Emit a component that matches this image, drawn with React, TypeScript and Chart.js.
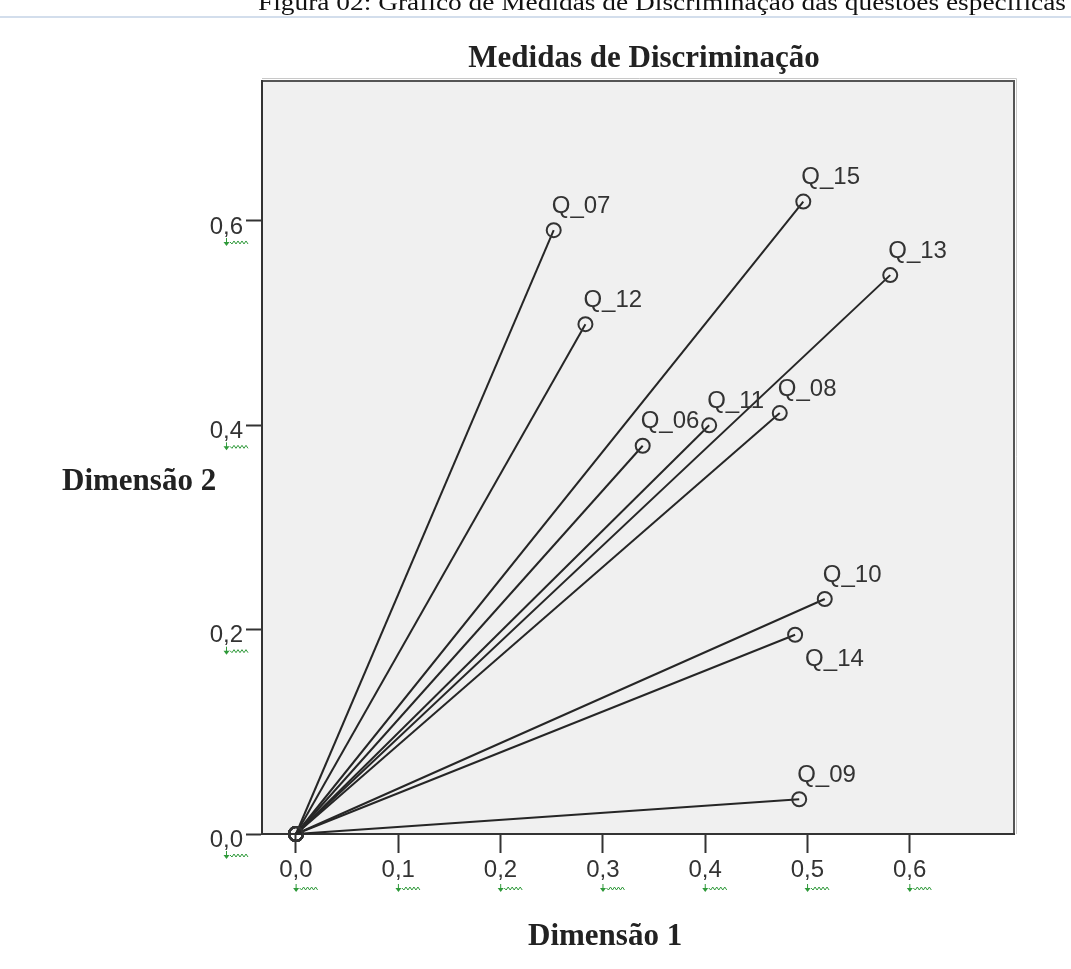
import React, { useEffect, useRef } from "react";
import { Chart, registerables } from "chart.js";

Chart.register(...registerables);

const questions = ["Q_06", "Q_07", "Q_08", "Q_09", "Q_10", "Q_11", "Q_12", "Q_13", "Q_14", "Q_15"];
const dimension1 = [0.339, 0.252, 0.473, 0.492, 0.517, 0.404, 0.283, 0.581, 0.488, 0.496];
const dimension2 = [0.380, 0.591, 0.412, 0.034, 0.230, 0.400, 0.499, 0.547, 0.195, 0.619];
const labelSide = ["above", "above", "above", "above", "above", "above", "above", "above", "below", "above"];
const xTickValues = [0, 0.1, 0.2, 0.3, 0.4, 0.5, 0.6];
const yTickValues = [0, 0.2, 0.4, 0.6];
const chartTitle = "Medidas de Discriminação";
const xAxisTitle = "Dimensão 1";
const yAxisTitle = "Dimensão 2";
const caption = "Figura 02: Gráfico de Medidas de Discriminação das questões específicas";

const fmt = (v: number) => v.toFixed(1).replace(".", ",");
const TICK_FONT = "24px 'Liberation Sans', Arial, sans-serif";

function squiggle(ctx: CanvasRenderingContext2D, commaX: number, endX: number, y: number) {
  ctx.save();
  ctx.strokeStyle = "#2f9a3a";
  ctx.fillStyle = "#2f9a3a";
  ctx.lineWidth = 1;
  ctx.beginPath();
  ctx.moveTo(commaX + 0.5, y - 3);
  ctx.lineTo(commaX + 0.5, y + 4);
  ctx.stroke();
  ctx.beginPath();
  ctx.moveTo(commaX - 2.5, y + 1);
  ctx.lineTo(commaX + 3.5, y + 1);
  ctx.lineTo(commaX + 0.5, y + 5);
  ctx.closePath();
  ctx.fill();
  ctx.beginPath();
  let x = commaX + 4;
  let up = true;
  ctx.moveTo(x, y + 1);
  while (x < endX + 3) {
    x += 2;
    ctx.lineTo(x, up ? y + 3 : y);
    up = !up;
  }
  ctx.stroke();
  ctx.restore();
}

const decorPlugin = {
  id: "decor",
  beforeDraw(chart: any) {
    const { ctx, chartArea: a, width } = chart;
    ctx.save();
    ctx.fillStyle = "#ffffff";
    ctx.fillRect(0, 0, chart.width, chart.height);
    ctx.fillStyle = "#111";
    ctx.font = "24px 'Liberation Serif', serif";
    ctx.textBaseline = "alphabetic";
    ctx.textAlign = "left";
    const cw = ctx.measureText(caption).width;
    ctx.save();
    ctx.translate(258, 10);
    ctx.scale(808 / cw, 1);
    ctx.fillText(caption, 0, 0);
    ctx.restore();
    ctx.fillStyle = "#d3deec";
    ctx.fillRect(0, 16, width, 2);
    ctx.fillStyle = "#f0f0f0";
    ctx.fillRect(a.left, a.top, a.right - a.left, a.bottom - a.top);
    ctx.strokeStyle = "#c8c8c8";
    ctx.lineWidth = 1;
    ctx.beginPath();
    ctx.moveTo(a.left, a.top - 2.5);
    ctx.lineTo(a.right + 2.5, a.top - 2.5);
    ctx.lineTo(a.right + 2.5, a.bottom);
    ctx.stroke();
    ctx.strokeStyle = "#555";
    ctx.lineWidth = 2;
    ctx.beginPath();
    ctx.moveTo(a.left, a.top);
    ctx.lineTo(a.right, a.top);
    ctx.lineTo(a.right, a.bottom);
    ctx.stroke();
    ctx.restore();
  },
  afterDraw(chart: any) {
    const { ctx } = chart;
    ctx.save();
    ctx.fillStyle = "#222";
    ctx.textBaseline = "alphabetic";
    ctx.font = "bold 31px 'Liberation Serif', serif";
    ctx.textAlign = "center";
    ctx.fillText(chartTitle, 644, 67);
    ctx.textAlign = "left";
    ctx.fillText(xAxisTitle, 528, 945);
    ctx.fillText(yAxisTitle, 62, 490);
    ctx.font = "24px 'Liberation Sans', Arial, sans-serif";
    ctx.fillStyle = "#333";
    ctx.textBaseline = "middle";
    chart.data.datasets.forEach((ds: any, i: number) => {
      const meta = chart.getDatasetMeta(i);
      const p = meta.data[1];
      if (!p) return;
      if (labelSide[i] === "below") {
        ctx.fillText(questions[i], p.x + 10, p.y + 25);
      } else {
        ctx.fillText(questions[i], p.x - 2, p.y - 24);
      }
    });
    ctx.font = TICK_FONT;
    const xs = chart.scales.x;
    const ys = chart.scales.y;
    xTickValues.forEach((v) => {
      const t = fmt(v);
      const w = ctx.measureText(t).width;
      const w0 = ctx.measureText(t.slice(0, 1)).width;
      const cx = xs.getPixelForValue(v);
      const left = cx - w / 2;
      squiggle(ctx, left + w0 + 3, left + w, 887);
    });
    yTickValues.forEach((v) => {
      const t = fmt(v);
      const w = ctx.measureText(t).width;
      const w0 = ctx.measureText(t.slice(0, 1)).width;
      const py = ys.getPixelForValue(v);
      const right = chart.chartArea.left - 16 - 3;
      const left = right - w;
      squiggle(ctx, left + w0 + 3, right, py + 20);
    });
    ctx.restore();
  },
};

export default function App() {
  const ref = useRef<HTMLCanvasElement | null>(null);
  useEffect(() => {
    if (!ref.current) return;
    const datasets = questions.map((q, i) => ({
      label: q,
      data: [
        { x: 0, y: 0 },
        { x: dimension1[i], y: dimension2[i] },
      ],
      showLine: true,
      borderColor: "#262626",
      borderWidth: 2,
      pointRadius: 7,
      pointBorderWidth: 2,
      pointBorderColor: "#333",
      pointBackgroundColor: "rgba(0,0,0,0)",
      clip: false as any,
    }));
    const chart = new Chart(ref.current, {
      type: "scatter",
      data: { datasets },
      options: {
        animation: false,
        responsive: false,
        devicePixelRatio: 1,
        events: [],
        layout: { padding: { left: 0, top: 81, right: 57, bottom: 0 } },
        plugins: {
          legend: { display: false },
          tooltip: { enabled: false },
          title: { display: false },
        },
        scales: {
          x: {
            type: "linear",
            min: -0.0332,
            max: 0.702,
            afterFit: (s: any) => {
              s.height = 135;
            },
            afterBuildTicks: (s: any) => {
              s.ticks = xTickValues.map((v) => ({ value: v }));
            },
            ticks: {
              callback: (v: any) => fmt(Number(v)),
              color: "#333",
              font: { family: "'Liberation Sans', Arial, sans-serif", size: 24 },
              padding: 3,
              maxRotation: 0,
              autoSkip: false,
            },
            grid: {
              drawOnChartArea: false,
              drawTicks: true,
              tickLength: 19,
              tickWidth: 2,
              tickColor: "#333",
            },
            border: { display: true, color: "#333", width: 2 },
          },
          y: {
            type: "linear",
            min: 0,
            max: 0.737,
            afterFit: (s: any) => {
              s.width = 262;
            },
            afterBuildTicks: (s: any) => {
              s.ticks = yTickValues.map((v) => ({ value: v }));
            },
            ticks: {
              callback: (v: any) => fmt(Number(v)),
              color: "#333",
              font: { family: "'Liberation Sans', Arial, sans-serif", size: 24 },
              padding: 3,
              labelOffset: 6,
              autoSkip: false,
            },
            grid: {
              drawOnChartArea: false,
              drawTicks: true,
              tickLength: 16,
              tickWidth: 2,
              tickColor: "#333",
            },
            border: { display: true, color: "#333", width: 2 },
          },
        },
      },
      plugins: [decorPlugin],
    });
    return () => chart.destroy();
  }, []);
  return (
    <canvas
      ref={ref}
      width={1071}
      height={969}
      style={{ position: "absolute", left: 0, top: 0, width: 1071, height: 969 }}
    />
  );
}
